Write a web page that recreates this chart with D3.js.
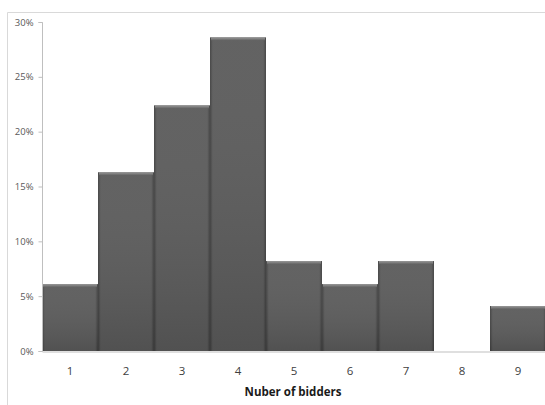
<!DOCTYPE html>
<html><head><meta charset="utf-8">
<script src="https://cdn.jsdelivr.net/npm/d3@7"></script>
<style>body{margin:0;background:#fff;overflow:hidden}svg{display:block}</style>
</head><body>
<svg id="c" width="545" height="405"></svg>
<script>
const categories = ["1","2","3","4","5","6","7","8","9"];
const values = [0.061, 0.163, 0.224, 0.286, 0.082, 0.061, 0.082, 0, 0.041];
const yTicks = [0, 0.05, 0.10, 0.15, 0.20, 0.25, 0.30];
const xTitle = "Nuber of bidders";

(function(){
const svg = d3.select("#c");
const pL = 42, pR = 546, pT = 22, pB = 351;
svg.append("path").attr("d", "M7.5,405 V12.5 H545").attr("fill","none").attr("stroke","#d9d9d9").attr("stroke-width",1);

const x = d3.scaleBand().domain(categories).range([pL, pR]).padding(0);
const y = d3.scaleLinear().domain([0, 0.30]).range([pB, pT]);

const defs = svg.append("defs");
const g1 = defs.append("linearGradient").attr("id","hg").attr("x1","0").attr("x2","1").attr("y1","0").attr("y2","0");
g1.append("stop").attr("offset","0").attr("stop-color","#404040");
g1.append("stop").attr("offset","0.05").attr("stop-color","#5c5c5c");
g1.append("stop").attr("offset","0.95").attr("stop-color","#5c5c5c");
g1.append("stop").attr("offset","1").attr("stop-color","#404040");
const g2 = defs.append("linearGradient").attr("id","vg").attr("x1","0").attr("x2","0").attr("y1","0").attr("y2","1");
g2.append("stop").attr("offset","0").attr("stop-color","#ffffff").attr("stop-opacity",0.04);
g2.append("stop").attr("offset","1").attr("stop-color","#000000").attr("stop-opacity",0.12);
const g3 = defs.append("linearGradient").attr("id","tg").attr("x1","0").attr("x2","0").attr("y1","0").attr("y2","1");
g3.append("stop").attr("offset","0").attr("stop-color","#9a9a9a");
g3.append("stop").attr("offset","1").attr("stop-color","#646464");

const bars = svg.append("g");
const data = categories.map((c,i)=>({c, v: values[i]})).filter(d=>d.v>0);
bars.selectAll("rect.b").data(data).join("rect").attr("class","b")
  .attr("x", d=>x(d.c)).attr("width", x.bandwidth())
  .attr("y", d=>y(d.v)).attr("height", d=>pB - y(d.v))
  .attr("fill","url(#hg)");
bars.selectAll("rect.s").data(data).join("rect").attr("class","s")
  .attr("x", d=>x(d.c)).attr("width", x.bandwidth())
  .attr("y", d=>y(d.v)).attr("height", d=>pB - y(d.v))
  .attr("fill","url(#vg)");
bars.selectAll("rect.t").data(data).join("rect").attr("class","t")
  .attr("x", d=>x(d.c)+1).attr("width", x.bandwidth()-2)
  .attr("y", d=>y(d.v)).attr("height", 3)
  .attr("fill","url(#tg)");

const yAxis = d3.axisLeft(y).tickValues(yTicks).tickFormat(d3.format(".0%")).tickSize(4).tickPadding(5);
const ya = svg.append("g").attr("transform",`translate(${pL+0.5},0)`).call(yAxis);
ya.select(".domain").attr("stroke","#bfbfbf").attr("d", `M-4,${pT}.5H0V${pB}.5H-4`);
ya.selectAll(".tick line").attr("stroke","#bfbfbf");
ya.selectAll(".tick text").attr("fill","#595959").attr("font-family","Open Sans, Liberation Sans, Arial, sans-serif").attr("font-size",9.5);

const xAxis = d3.axisBottom(x).tickSize(0).tickPadding(15);
const xa = svg.append("g").attr("transform",`translate(0,${pB+0.5})`).call(xAxis);
xa.select(".domain").attr("stroke","#bfbfbf");
xa.selectAll(".tick text").attr("fill","#404040").attr("font-family","Open Sans, Liberation Sans, Arial, sans-serif").attr("font-size",11.5);

svg.append("text").attr("x", 293).attr("y", 396).attr("text-anchor","middle")
  .attr("font-family","Open Sans, Liberation Sans, Arial, sans-serif").attr("font-weight","bold").attr("font-size",11.5)
  .attr("fill","#1a1a1a").text(xTitle);
})();
</script>
</body></html>
